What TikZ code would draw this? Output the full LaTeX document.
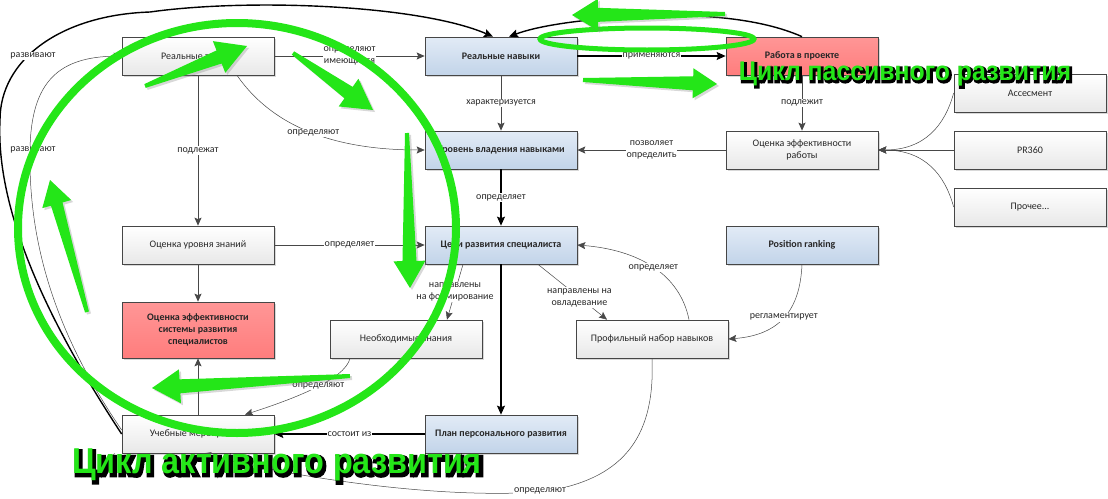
\documentclass[tikz,border=0pt]{standalone}
\usepackage{fontspec}
\setmainfont{Carlito}
\newfontfamily\gfont{Liberation Sans}
\newfontfamily\gofont{Liberation Sans}[BoldFeatures={FakeBold=10}]
\usetikzlibrary{arrows.meta,calc,shadows}
\definecolor{gr}{RGB}{36,230,24}
\definecolor{bordc}{RGB}{70,70,70}
\definecolor{bluetop}{RGB}{226,235,246}
\definecolor{bluebot}{RGB}{194,212,233}
\definecolor{redtop}{RGB}{255,150,150}
\definecolor{redbot}{RGB}{255,125,125}
\definecolor{linec}{RGB}{72,72,72}
\definecolor{txtc}{RGB}{40,40,40}
\newcommand\garrow[6]{%
  \coordinate (gah) at ($(#2)!#6!(#1)$);
  \fill[gr, drop shadow={shadow xshift=2pt, shadow yshift=-2pt, opacity=0.3}]
    ($(#1)!#3!90:(#2)$) -- ($(gah)!#4!-90:(#1)$) -- ($(gah)!#5!-90:(#1)$) -- (#2)
    -- ($(gah)!#5!90:(#1)$) -- ($(gah)!#4!90:(#1)$) -- ($(#1)!#3!-90:(#2)$) -- cycle;}
\begin{document}
\begin{tikzpicture}[x=1pt,y=-1pt,
  box/.style={draw=bordc, line width=0.7pt, minimum width=152pt, minimum height=38pt,
    align=center, font=\fontsize{10}{12}\selectfont, text=txtc, inner sep=2pt,
    top color=white, bottom color=black!9,
    drop shadow={shadow xshift=1.5pt, shadow yshift=-1.5pt, opacity=0.25, fill=black!60}},
  bbox/.style={box, top color=bluetop, bottom color=bluebot, font=\fontsize{10}{12}\selectfont\bfseries},
  rbox/.style={box, top color=redtop, bottom color=redbot, font=\fontsize{10}{12}\selectfont\bfseries, text=black!85},
  conn/.style={draw=linec, line width=0.75pt, -{Stealth[length=8pt,width=7pt,inset=1.5pt]}},
  thinc/.style={draw=linec, line width=0.5pt, -{Stealth[length=8pt,width=7pt,inset=1.5pt]}},
  thickc/.style={draw=black, line width=1.4pt, -{Stealth[length=9pt,width=8pt,inset=1.5pt]}},
  lbl/.style={fill=white, inner sep=1pt, font=\fontsize{10}{12}\selectfont, text=txtc, align=center},
  gtxt/.style={text=gr, font=\gfont\bfseries},
  gout/.style={text=black, font=\gofont\bfseries}]
\useasboundingbox (0,0) rectangle (1108,498);
\fill[white] (0,0) rectangle (1108,498);

% boxes
\node[box]  (rz)   at (198,56)  {Реальные знания};
\node[bbox] (rn)   at (501,56)  {Реальные навыки};
\node[rbox] (rp)   at (802,56)  {Работа в проекте};
\node[box]  (as)   at (1030,93) {Ассесмент};
\node[box]  (pr)   at (1030,150) {PR360};
\node[box]  (pc)   at (1030,207) {Прочее...};
\node[bbox] (uv)   at (501,150) {Уровень владения навыками};
\node[box]  (oer)  at (802,150) {Оценка эффективности\\работы};
\node[box]  (ouz)  at (198,245) {Оценка уровня знаний};
\node[bbox] (cr)   at (501,245) {Цели развития специалиста};
\node[bbox] (posr) at (802,245) {Position ranking};
\node[rbox, minimum height=56pt] (oes) at (198,330) {Оценка эффективности\\системы развития\\специалистов};
\node[box]  (nz)   at (406,339) {Необходимые знания};
\node[box]  (pn)   at (652,339) {Профильный набор навыков};
\node[box]  (um)   at (198,434) {Учебные мероприятия};
\node[bbox] (pp)   at (501,434) {План персонального развития};

% straight connectors
\draw[conn] (rz) -- node[lbl]{определяют\\имеющиеся} (rn);
\draw[thickc] (rn) -- node[lbl]{применяются} (rp);
\draw[conn] (rn) -- node[lbl]{характеризуется} (uv);
\draw[conn] (rp) -- node[lbl]{подлежит} (oer);
\draw[conn] (oer) -- node[lbl]{позволяет\\определить} (uv);
\draw[thickc] (uv) -- node[lbl]{определяет} (cr);
\draw[conn] (rz) -- node[lbl]{подлежат} (ouz);
\draw[conn] (ouz) -- node[lbl]{определяет} (cr);
\draw[conn] (ouz) -- (oes);
\draw[thickc] (cr) -- (pp);
\draw[thickc] (pp) -- node[lbl]{состоит из} (um);
\draw[conn] (um) -- (oes);
\draw[conn] (pr) -- (oer);
\draw[thinc] (as.west) .. controls (945,125) and (925,150) .. (oer.east);
\draw[thinc] (pc.west) .. controls (945,175) and (925,150) .. (oer.east);
\draw[thinc] ([xshift=-38pt]cr.south) -- node[lbl]{направлены\\на формирование} ([xshift=41pt]nz.north);
\draw[thinc] ([xshift=37pt]cr.south) -- node[lbl,pos=0.6]{направлены на\\овладевание} ([xshift=-45pt]pn.north);

% curved connectors
\draw[thinc] ([xshift=39pt]rz.south) .. controls (275,130) and (340,150) .. node[lbl]{определяют} (uv.west);
\draw[thinc] ([xshift=37pt]pn.north) .. controls (680,275) and (640,250) .. node[lbl]{определяет} (cr.east);
\draw[thinc] (posr.south) .. controls (800,310) and (780,335) .. node[lbl]{регламентирует} (pn.east);
\draw[thinc] ([xshift=-56pt]nz.south) .. controls (345,380) and (290,400) .. node[lbl,pos=0.45]{определяют} ([xshift=47pt]um.north);
\draw[thinc] (pn.south) .. controls (655,430) and (630,480) .. (540,492) .. controls (420,500) and (260,470) .. ([xshift=5pt]um.south);
\node[lbl] at (540,491) {определяют};
\draw[thickc] (rp.north) .. controls (760,18) and (700,14) .. (650,16) .. controls (590,18) and (540,25) .. ([xshift=8pt]rn.north);
\node[lbl] at (650,17) {развивают};
\draw[thickc] (um.west) .. controls (60,340) and (-5,220) .. (0,120) .. controls (0,60) and (60,15) .. (150,12) .. controls (250,-2) and (420,5) .. ([xshift=-8pt]rn.north);
\node[lbl] at (33,56) {развивают};
\draw[thinc] ([yshift=4pt]um.west) .. controls (60,340) and (28,250) .. (30,150) .. controls (31,80) and (60,57) .. (rz.west);
\node[lbl] at (33,150) {развивают};

% green annotations
\draw[gr, line width=8pt] (237,228) ellipse [x radius=219, y radius=205];
\draw[gr, line width=5pt] (647,39) ellipse [x radius=107, y radius=11];
\garrow{145,86}{247,46}{2pt}{7pt}{17pt}{30pt}
\garrow{293,53}{373,110}{2pt}{7pt}{17pt}{30pt}
\garrow{407,133}{410,288}{2pt}{7pt}{16pt}{27pt}
\garrow{350,376}{152,388}{2pt}{7pt}{17pt}{28pt}
\garrow{87,312}{50,180}{2pt}{6pt}{15pt}{25pt}
\garrow{725,14}{572,15}{2pt}{7pt}{16pt}{26pt}
\garrow{583,80}{717,84}{2pt}{7pt}{15pt}{24pt}

\node[gout, font=\gofont\bfseries\fontsize{27}{30}\selectfont, xscale=0.92] at (906.5,75.5) {Цикл пассивного развития};
\node[gtxt, font=\gfont\bfseries\fontsize{27}{30}\selectfont, xscale=0.92] at (905,74) {Цикл пассивного развития};
\node[gout, font=\gofont\bfseries\fontsize{36}{40}\selectfont, xscale=0.9] at (279,467) {Цикл активного развития};
\node[gtxt, font=\gfont\bfseries\fontsize{36}{40}\selectfont, xscale=0.9] at (277,465) {Цикл активного развития};
\end{tikzpicture}
\end{document}
